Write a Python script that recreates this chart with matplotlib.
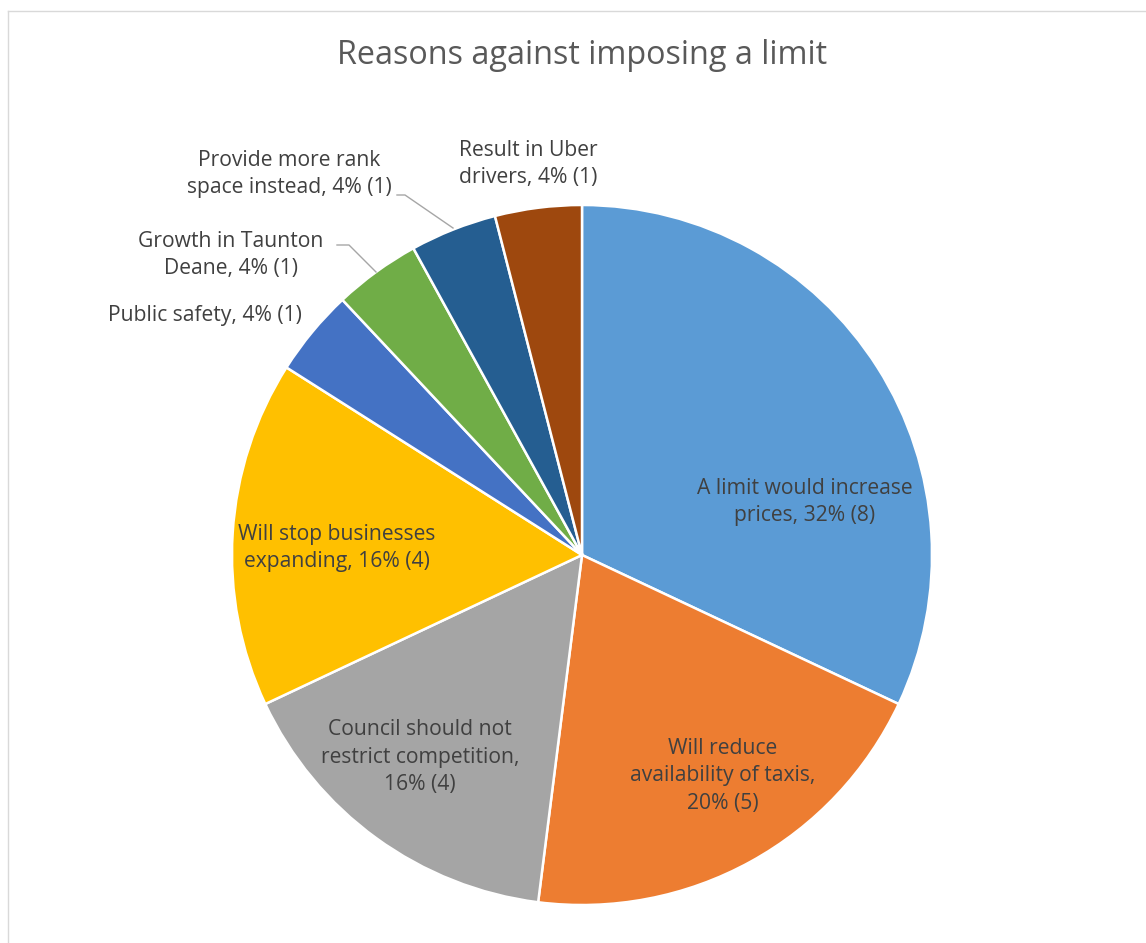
import matplotlib
matplotlib.use("Agg")
import matplotlib.pyplot as plt
from matplotlib.lines import Line2D

plt.rcParams['font.family'] = ['Open Sans', 'DejaVu Sans']

reasons = [
    "A limit would increase\nprices",
    "Will reduce\navailability of taxis,\n",
    "Council should not\nrestrict competition,\n",
    "Will stop businesses\nexpanding",
    "Public safety",
    "Growth in Taunton\nDeane",
    "Provide more rank\nspace instead",
    "Result in Uber\ndrivers",
]
counts = [8, 5, 4, 4, 1, 1, 1, 1]
colors = ["#5B9BD5", "#ED7D31", "#A5A5A5", "#FFC000",
          "#4472C4", "#70AD47", "#255E91", "#9E480E"]

W, H = 1146, 943
cx, cy, R = 582, 555, 350  # pie centre and radius in pixels


def px(x, y):
    """pixel position -> data coords (pie centre at 0,0, radius 1)"""
    return (x - cx) / R, (cy - y) / R


fig = plt.figure(figsize=(W / 100, H / 100), dpi=100)
ax = fig.add_axes([0, 0, 1, 1])
ax.pie(counts, colors=colors, startangle=90, counterclock=False,
       wedgeprops=dict(edgecolor="white", linewidth=1.8))
ax.set_xlim(-cx / R, (W - cx) / R)
ax.set_ylim(-(H - cy) / R, cy / R)
ax.set_aspect("auto")
ax.axis("off")

total = sum(counts)
label_pos = [(805, 502), (723, 776), (420, 757), (337, 548),
             (205, 316), (231, 255), (289, 174), (528, 164)]
for name, n, (lx, ly) in zip(reasons, counts, label_pos):
    pct = round(100 * n / total)
    if name.endswith("\n"):
        txt = f"{name}{pct}% ({n})"
    else:
        txt = f"{name}, {pct}% ({n})"
    x, y = px(lx, ly)
    ax.text(x, y, txt, ha="center", va="center", fontsize=15.2,
            color="#404040", linespacing=1.4)

# leader lines for the two small outside labels
leaders = [[(397, 195), (405, 195), (453, 228)],
           [(337, 245), (349, 245), (376, 272)]]
for pts in leaders:
    xs, ys = zip(*[px(*p) for p in pts])
    ax.plot(xs, ys, color="#A6A6A6", linewidth=1.0)

fig.text(cx / W, 1 - 56 / H, "Reasons against imposing a limit",
         ha="center", va="center", fontsize=23.3, color="#595959")

# chart area border (top and left edges visible)
fig.add_artist(Line2D([8 / W, 1], [1 - 11 / H, 1 - 11 / H],
                      transform=fig.transFigure, color="#D9D9D9", linewidth=1))
fig.add_artist(Line2D([8 / W, 8 / W], [0, 1 - 11 / H],
                      transform=fig.transFigure, color="#D9D9D9", linewidth=1))

fig.savefig("out.png", dpi=100)
